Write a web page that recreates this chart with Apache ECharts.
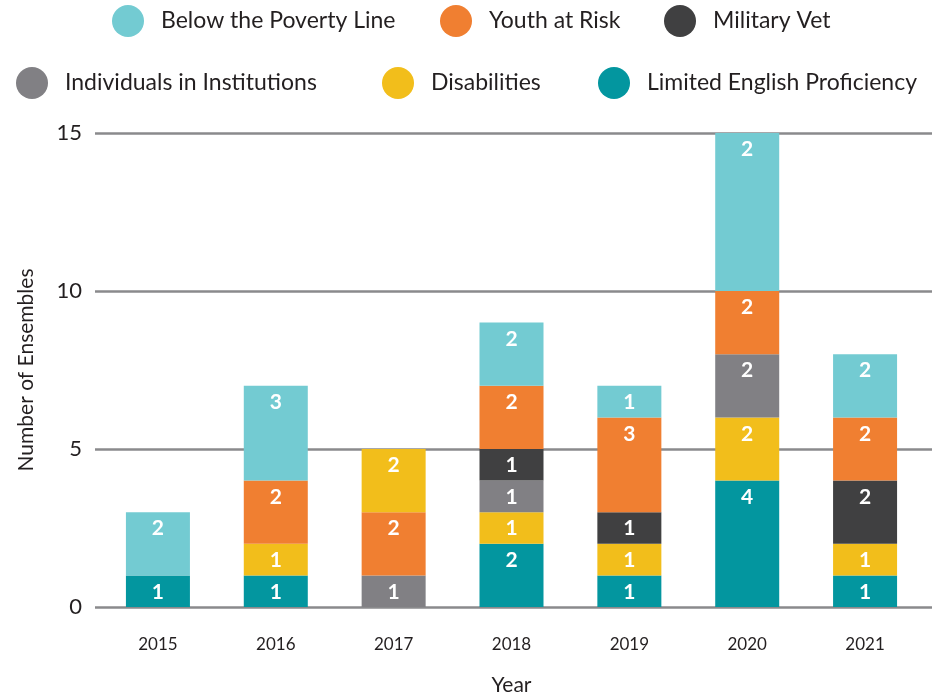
<!DOCTYPE html>
<html>
  <head>
    <meta charset="utf-8">
    <title>Number of Ensembles by Year</title>
    <style>
      html, body { margin: 0; padding: 0; background: #fff; overflow: hidden; }
      #chart { width: 949px; height: 698px; }
    </style>
  </head>
  <body>
    <div id="chart"></div>
    <script src="https://cdn.jsdelivr.net/npm/echarts@6/dist/echarts.min.js"></script>
    <script>
      // Data (stack order bottom -> top)
      var years = ['2015', '2016', '2017', '2018', '2019', '2020', '2021'];
      var limitedEnglish = [1, 1, '-', 2, 1, 4, 1];
      var disabilities = ['-', 1, '-', 1, 1, 2, 1];
      var institutions = ['-', '-', 1, 1, '-', 2, '-'];
      var militaryVet = ['-', '-', '-', 1, 1, '-', 2];
      var youthAtRisk = ['-', 2, 2, 2, 3, 2, 2];
      var belowPoverty = [2, 3, '-', 2, 1, 5, 2];
      // printed labels of the top segment (2020 bar is drawn taller than its label)
      var belowPovertyLabels = [2, 3, '-', 2, 1, 2, 2];
      // 2017 has its Disabilities block sitting on top of the stack
      var disabilitiesTop = ['-', '-', 2, '-', '-', '-', '-'];
      var yTicks = { min: 0, max: 15, interval: 5 };

      var COLORS = {
        poverty: '#73cbd2',
        youth: '#f07f31',
        military: '#404041',
        institutions: '#818084',
        disabilities: '#f2be1b',
        english: '#03969f'
      };

      var FONT = 'Lato';
      var GRID_LINE = { color: '#8a8a8c', width: 2.5 };

      var barLabel = {
        show: true,
        position: 'insideTop',
        distance: 6,
        color: '#fff',
        fontFamily: FONT,
        fontWeight: 'bold',
        fontSize: 21
      };

      function bar(name, data, color, labels) {
        var label = barLabel;
        if (labels) {
          label = Object.assign({}, barLabel, {
            formatter: function (p) { return labels[p.dataIndex]; }
          });
        }
        return {
          name: name,
          type: 'bar',
          stack: 'total',
          barWidth: 64,
          data: data,
          itemStyle: { color: color },
          label: label
        };
      }

      // one legend block per entry so each sits where the reference has it
      var legendSpots = [
        ['Below the Poverty Line', 112, 5],
        ['Youth at Risk', 440, 5],
        ['Military Vet', 664, 5],
        ['Individuals in Institutions', 16, 67],
        ['Disabilities', 382, 67],
        ['Limited English Proficiency', 598, 67]
      ];
      var legends = legendSpots.map(function (s) {
        return {
          left: s[1], top: s[2], padding: 0,
          icon: 'circle', itemWidth: 32, itemHeight: 32,
          textStyle: {
            fontFamily: FONT, fontSize: 23, color: '#231f20',
            padding: [0, 0, 0, 12]
          },
          data: [s[0]]
        };
      });

      var chart = echarts.init(document.getElementById('chart'));

      chart.setOption({
        animation: false,
        legend: legends,
        grid: [
          // bars
          { left: 99, right: 25, top: 133, bottom: 91, outerBoundsMode: 'none' },
          // wider grid only for the horizontal gridlines
          { left: 95, right: 17, top: 133, bottom: 91, outerBoundsMode: 'none' }
        ],
        xAxis: [
          {
            gridIndex: 0,
            type: 'category',
            data: years,
            name: 'Year',
            nameLocation: 'middle',
            nameGap: 68,
            nameTextStyle: { fontFamily: FONT, fontSize: 21, color: '#231f20' },
            axisLine: { show: false },
            axisTick: { show: false },
            axisLabel: { fontFamily: FONT, fontSize: 17, color: '#231f20', margin: 29 }
          },
          { gridIndex: 1, type: 'value', min: 0, max: 1, show: false }
        ],
        yAxis: [
          {
            gridIndex: 0,
            type: 'value',
            min: yTicks.min,
            max: yTicks.max,
            interval: yTicks.interval,
            name: 'Number of Ensembles',
            nameLocation: 'middle',
            nameGap: 62,
            nameTextStyle: { fontFamily: FONT, fontSize: 21, color: '#231f20' },
            axisLabel: { fontFamily: FONT, fontSize: 22, color: '#231f20', margin: 17 },
            splitLine: { show: false }
          },
          {
            gridIndex: 1,
            type: 'value',
            min: yTicks.min,
            max: yTicks.max,
            interval: yTicks.interval,
            z: 0,
            axisLine: { show: false },
            axisTick: { show: false },
            axisLabel: { show: false },
            splitLine: { show: true, lineStyle: GRID_LINE }
          }
        ],
        series: [
          bar('Limited English Proficiency', limitedEnglish, COLORS.english),
          bar('Disabilities', disabilities, COLORS.disabilities),
          bar('Individuals in Institutions', institutions, COLORS.institutions),
          bar('Military Vet', militaryVet, COLORS.military),
          bar('Youth at Risk', youthAtRisk, COLORS.youth),
          bar('Below the Poverty Line', belowPoverty, COLORS.poverty, belowPovertyLabels),
          bar('Disabilities', disabilitiesTop, COLORS.disabilities)
        ]
      });
    </script>
  </body>
</html>
